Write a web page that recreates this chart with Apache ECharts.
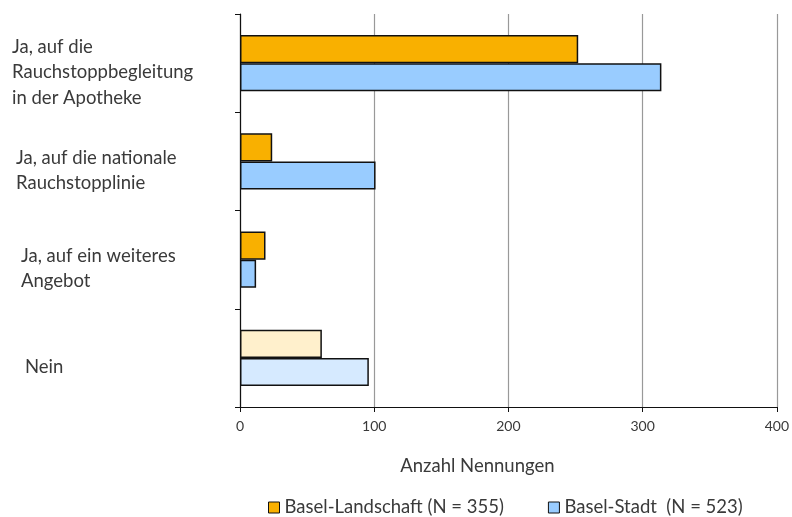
<!DOCTYPE html>
<html>
<head>
<meta charset="utf-8">
<script src="https://cdn.jsdelivr.net/npm/echarts@6/dist/echarts.min.js"></script>
<style>
  html, body { margin: 0; padding: 0; background: #fff; }
  #chart { width: 792px; height: 517px; }
</style>
</head>
<body>
<div id="chart"></div>
<script>
// Answer categories (top to bottom)
const categories = [
  'Ja, auf die\nRauchstoppbegleitung\nin der Apotheke',
  'Ja, auf die nationale\nRauchstopplinie',
  'Ja, auf ein weiteres\nAngebot',
  'Nein'
];
const seriesNames = ['Basel-Landschaft (N = 355)', 'Basel-Stadt  (N = 523)'];
const baselLandschaft = [252, 24, 19, 61];
const baselStadt = [314, 101, 12, 96];
const xTicks = { min: 0, max: 400, interval: 100 };
const axisTitle = 'Anzahl Nennungen';

const FONT = 'Lato';
const TEXT = '#3a3a3a';
const colBL = '#F9B000', colBLpale = '#FFF0CC';
const colBS = '#99CCFF', colBSpale = '#D6EAFF';

// "Nein" answers are drawn in pale tints
function toData(values, strong, pale) {
  return values.map((v, i) => ({
    value: v,
    itemStyle: { color: categories[i] === 'Nein' ? pale : strong }
  }));
}

const labelStyles = ['c0', 'c1', 'c2', 'c3'];
const rich = {};
[0, 4, 9, 13].forEach((p, i) => {
  rich[labelStyles[i]] = {
    fontFamily: FONT, fontSize: 18.5, color: TEXT,
    lineHeight: 25.5, padding: [0, 0, 0, p]
  };
});

const chart = echarts.init(document.getElementById('chart'));
chart.setOption({
  animation: false,
  textStyle: { fontFamily: FONT },
  grid: { left: 240, right: 15, top: 14, bottom: 110, containLabel: false },
  legend: {
    top: 493, left: 263,
    itemGap: 44, itemWidth: 11, itemHeight: 11, icon: 'rect',
    textStyle: { fontFamily: FONT, fontSize: 18.5, color: TEXT },
    itemStyle: { borderColor: '#111', borderWidth: 1 },
    data: seriesNames
  },
  xAxis: {
    type: 'value',
    min: xTicks.min, max: xTicks.max, interval: xTicks.interval,
    name: axisTitle, nameLocation: 'middle', nameGap: 50,
    nameTextStyle: { fontFamily: FONT, fontSize: 18.5, color: TEXT, padding: [0, 62, 0, 0] },
    axisLine: { show: true, lineStyle: { color: '#111', width: 1.2 } },
    axisTick: { show: true, length: 5, lineStyle: { color: '#111' } },
    axisLabel: { fontFamily: FONT, fontSize: 14, color: TEXT, margin: 12 },
    splitLine: { show: true, lineStyle: { color: '#999', width: 1.2 } }
  },
  yAxis: {
    type: 'category',
    inverse: true,
    data: categories,
    axisLine: { show: true, lineStyle: { color: '#111', width: 1.2 } },
    axisTick: { show: true, length: 5, lineStyle: { color: '#111' } },
    axisLabel: {
      align: 'left', margin: 228, padding: [18, 0, 0, 0],
      formatter: (val, idx) => val.split('\n').map(l => `{${labelStyles[idx]}|${l}}`).join('\n'),
      rich
    }
  },
  series: [
    {
      name: seriesNames[0], type: 'bar',
      data: toData(baselLandschaft, colBL, colBLpale),
      itemStyle: { color: colBL, borderColor: '#111', borderWidth: 1.5 },
      barGap: '0%', barCategoryGap: '43%'
    },
    {
      name: seriesNames[1], type: 'bar',
      data: toData(baselStadt, colBS, colBSpale),
      itemStyle: { color: colBS, borderColor: '#111', borderWidth: 1.5 },
      barGap: '0%', barCategoryGap: '43%'
    }
  ]
});
</script>
</body>
</html>
